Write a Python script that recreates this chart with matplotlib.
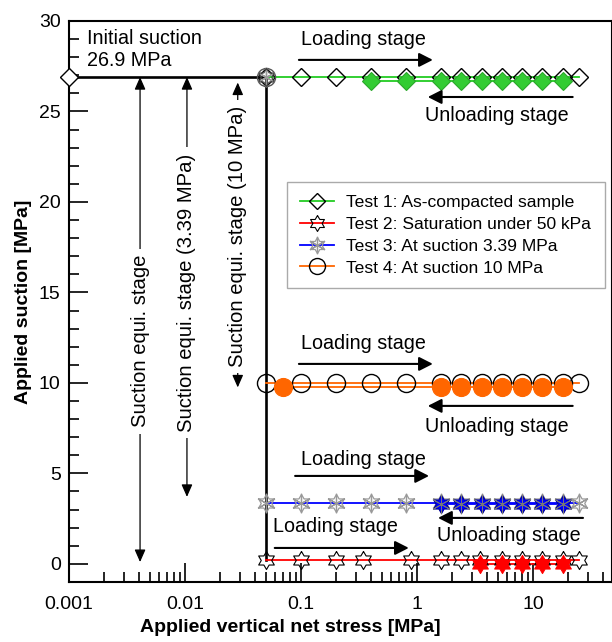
import numpy as np
import matplotlib
matplotlib.use('Agg')
import matplotlib.pyplot as plt
from matplotlib.lines import Line2D
from matplotlib.legend_handler import HandlerTuple
from matplotlib.ticker import FixedLocator, LogLocator, MultipleLocator, NullFormatter, FuncFormatter

plt.rcParams['font.family'] = ['Liberation Sans', 'DejaVu Sans']

# initial state -> loading at constant water content -> suction equalisation
path_x = [0.001, 0.05, 0.05]
path_y = [26.9, 26.9, 0.2]
start_x = 0.05
start_y = 26.9

# Test 1: as-compacted sample
t1_load_x = [0.05, 0.1, 0.2, 0.4, 0.8, 1.6, 2.4, 3.6, 5.4, 8, 12, 18, 25]
t1_load_s = 26.9
t1_unload_x = [18, 12, 8, 5.4, 3.6, 2.4, 1.6, 0.8, 0.4]
t1_unload_s = 26.7

# Test 2: saturation under 50 kPa
t2_load_x = [0.05, 0.1, 0.2, 0.34, 0.89, 1.6, 2.4, 3.5, 5.4, 8, 12, 18, 25]
t2_load_s = 0.2
t2_unload_x = [18, 12, 8, 5.4, 3.5]
t2_unload_s = 0.02

# Test 3: suction 3.39 MPa
t3_load_x = [0.05, 0.1, 0.2, 0.4, 0.8, 1.6, 2.4, 3.6, 5.4, 8, 12, 18, 25]
t3_load_s = 3.39
t3_unload_x = [18, 12, 8, 5.4, 3.6, 2.4, 1.6]
t3_unload_s = 3.3

# Test 4: suction 10 MPa
t4_load_x = [0.05, 0.1, 0.2, 0.4, 0.8, 1.6, 2.4, 3.6, 5.4, 8, 12, 18, 25]
t4_load_s = 10.0
t4_unload_x = [18, 12, 8, 5.4, 3.6, 2.4, 1.6, 0.07]
t4_unload_s = 9.8

legend_labels = ['Test 1: As-compacted sample', 'Test 2: Saturation under 50 kPa',
                 'Test 3: At suction 3.39 MPa', 'Test 4: At suction 10 MPa']

# six point star marker (star of David like)
ang = np.pi / 2 + np.arange(13) * np.pi / 6
rad = np.where(np.arange(13) % 2 == 0, 1.0, 0.58)
star6 = np.column_stack([rad * np.cos(ang), rad * np.sin(ang)])
aster6 = (6, 2, 0)

green = '#33cc33'
lgreen = '#22cc22'
red = '#ff0000'
blue = '#0000ff'
orange = '#ff6600'
grey = '#999999'

fig = plt.figure(figsize=(6.12, 6.42), dpi=100)
ax = fig.add_axes([0.1127, 0.0935, 0.8873, 0.8738])
ax.set_xscale('log')
ax.set_xlim(0.001, 48)
ax.set_ylim(-1, 30)

def full(xs, s):
    return np.full(len(xs), s)

# black path
ax.plot(path_x, path_y, color='k', lw=1.9, zorder=2)
ax.plot(path_x[0], path_y[0], marker='D', ms=9, mfc='white', mec='k', mew=1,
        clip_on=False, zorder=5)

# coloured lines
ax.plot(t1_load_x, full(t1_load_x, t1_load_s), color=lgreen, lw=1.3, zorder=2)
ax.plot(t1_unload_x, full(t1_unload_x, t1_unload_s), color=lgreen, lw=1.3, zorder=2)
ax.plot(t2_load_x, full(t2_load_x, t2_load_s), color=red, lw=1.3, zorder=2)
ax.plot(t2_unload_x, full(t2_unload_x, t2_unload_s), color=red, lw=1.3, zorder=2)
ax.plot(t3_load_x, full(t3_load_x, t3_load_s), color=blue, lw=1.3, zorder=2)
ax.plot(t3_unload_x, full(t3_unload_x, t3_unload_s), color=blue, lw=1.3, zorder=2)
ax.plot(t4_load_x, full(t4_load_x, t4_load_s), color=orange, lw=1.3, zorder=2)
ax.plot(t4_unload_x, full(t4_unload_x, t4_unload_s), color=orange, lw=1.3, zorder=2)

# loading (open markers)
ax.plot(t1_load_x, full(t1_load_x, t1_load_s), ls='none', marker='D', ms=9,
        mfc='none', mec='k', mew=1, zorder=3)
ax.plot(t2_load_x, full(t2_load_x, t2_load_s), ls='none', marker=star6, ms=13,
        mfc='none', mec='k', mew=0.8, zorder=3)
ax.plot(t3_load_x, full(t3_load_x, t3_load_s), ls='none', marker=star6, ms=13,
        mfc='none', mec=grey, mew=0.9, zorder=3)
ax.plot(t3_load_x, full(t3_load_x, t3_load_s), ls='none', marker=aster6, ms=14,
        mec=grey, mew=0.9, zorder=3)
ax.plot(t4_load_x, full(t4_load_x, t4_load_s), ls='none', marker='o', ms=13,
        mfc='none', mec='k', mew=1, zorder=3)

# start point of all tests
ax.plot(start_x, start_y, ls='none', marker='o', ms=13, mfc='none', mec='#555555', mew=1, zorder=4)
ax.plot(start_x, start_y, ls='none', marker=aster6, ms=14, mec=grey, mew=1, zorder=4)
ax.plot(start_x, start_y, ls='none', marker=star6, ms=13, mfc='none', mec='#444444', mew=0.8, zorder=4)

# unloading (filled markers)
ax.plot(t1_unload_x, full(t1_unload_x, t1_unload_s), ls='none', marker='D', ms=9,
        mfc=green, mec='#2aa82a', mew=0.8, zorder=4)
ax.plot(t2_unload_x, full(t2_unload_x, t2_unload_s), ls='none', marker=star6, ms=13,
        mfc=red, mec=red, mew=0.8, zorder=4)
ax.plot(t3_unload_x, full(t3_unload_x, t3_unload_s), ls='none', marker=star6, ms=13,
        mfc=blue, mec='#000099', mew=0.8, zorder=4)
ax.plot(t3_unload_x, full(t3_unload_x, t3_unload_s), ls='none', marker=aster6, ms=14,
        mec='#777777', mew=0.6, zorder=4)
ax.plot(t4_unload_x, full(t4_unload_x, t4_unload_s), ls='none', marker='o', ms=13,
        mfc=orange, mec=orange, mew=0.8, zorder=4)

fs = 14.2
# loading / unloading arrows
harrow = dict(arrowstyle='-|>,head_length=0.55,head_width=0.28', color='k', lw=1.5,
              shrinkA=0, shrinkB=0, mutation_scale=15)
def harr(x0, x1, y):
    ax.annotate('', xy=(x1, y), xytext=(x0, y), arrowprops=harrow, zorder=5)

ax.text(0.1, 28.95, 'Loading stage', fontsize=fs, va='center', ha='left')
harr(0.096, 1.37, 27.85)
harr(22, 1.24, 25.8)
ax.text(1.17, 24.8, 'Unloading stage', fontsize=fs, va='center', ha='left')

ax.text(0.1, 12.2, 'Loading stage', fontsize=fs, va='center', ha='left')
harr(0.096, 1.37, 11.05)
harr(22, 1.24, 8.73)
ax.text(1.17, 7.6, 'Unloading stage', fontsize=fs, va='center', ha='left')

ax.text(0.1, 5.75, 'Loading stage', fontsize=fs, va='center', ha='left')
harr(0.089, 1.27, 4.86)
harr(27, 1.52, 2.54)
ax.text(1.49, 1.55, 'Unloading stage', fontsize=fs, va='center', ha='left')

ax.text(0.0574, 2.04, 'Loading stage', fontsize=fs, va='center', ha='left')
harr(0.0594, 0.85, 0.88)

# suction equalisation arrows
varrow = dict(arrowstyle='<|-|>,head_length=0.5,head_width=0.22', color='k', lw=0.9,
              shrinkA=0, shrinkB=0, mutation_scale=15)
def varr(x, y0, y1, ym, txt):
    ax.annotate('', xy=(x, y1), xytext=(x, y0), arrowprops=varrow, zorder=3)
    ax.text(x, ym, txt, rotation=90, fontsize=14.6, ha='center', va='center', zorder=4,
            bbox=dict(boxstyle='square,pad=0.3', fc='white', ec='none'))

varr(0.0041, 26.9, 0.1, 12.3, 'Suction equi. stage')
varr(0.0104, 26.9, 3.7, 15.0, 'Suction equi. stage (3.39 MPa)')
varr(0.0285, 26.6, 9.75, 18.1, 'Suction equi. stage (10 MPa)')

ax.text(0.00143, 28.4, 'Initial suction\n26.9 MPa', fontsize=fs, va='center', ha='left')

# axes styling
for sp in ax.spines.values():
    sp.set_linewidth(1.5)
ax.xaxis.set_major_locator(FixedLocator([0.001, 0.01, 0.1, 1, 10, 100]))
ax.xaxis.set_major_formatter(FuncFormatter(lambda v, p: '%g' % v))
ax.xaxis.set_minor_locator(LogLocator(base=10, subs=np.arange(2, 10), numticks=20))
ax.xaxis.set_minor_formatter(NullFormatter())
ax.yaxis.set_major_locator(MultipleLocator(5))
ax.yaxis.set_minor_locator(MultipleLocator(1))
ax.tick_params(which='major', direction='in', length=13.5, width=1.2, labelsize=14)
ax.tick_params(which='minor', direction='in', length=7, width=1.2)
ax.tick_params(axis='x', which='major', pad=10)
ax.tick_params(axis='y', which='major', pad=6)
ax.tick_params(top=False, right=False, which='both')

ax.set_xlabel('Applied vertical net stress [MPa]', fontsize=14, fontweight='bold')
ax.set_ylabel('Applied suction [MPa]', fontsize=14, fontweight='bold')
ax.xaxis.set_label_coords(0.407, -0.066)
ax.yaxis.set_label_coords(-0.068, 0.5)

# legend
h1 = Line2D([], [], color=lgreen, lw=1.3, marker='D', ms=8, mfc='none', mec='k', mew=1)
h2 = Line2D([], [], color=red, lw=1.3, marker=star6, ms=11.5, mfc='none', mec='k', mew=0.8)
h3a = Line2D([], [], color=blue, lw=1.3, marker=star6, ms=11.5, mfc='none', mec=grey, mew=0.9)
h3b = Line2D([], [], ls='none', marker=aster6, ms=12.5, mec=grey, mew=0.9)
h4 = Line2D([], [], color=orange, lw=1.3, marker='o', ms=11.5, mfc='none', mec='k', mew=1)
leg = ax.legend([h1, h2, (h3a, h3b), h4], legend_labels,
                handler_map={tuple: HandlerTuple(ndivide=1)},
                loc='upper left', bbox_to_anchor=(0.4015, 0.713, 0.586, 0), mode='expand',
                borderaxespad=0, fontsize=12.6, handlelength=1.95, handletextpad=0.7,
                labelspacing=0.38, borderpad=0.72, fancybox=False, framealpha=1,
                edgecolor='#aaaaaa')
leg.get_frame().set_linewidth(1.0)
leg.set_zorder(6)

fig.savefig('out.png', dpi=100)
